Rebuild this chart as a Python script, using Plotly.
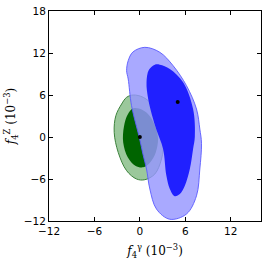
import plotly.graph_objects as go

# Contour outlines (units of 1e-3)
green_outer_x = [-0.88, 0.44, 1.75, 2.64, 3.17, 2.86, 1.98, 0.66, -0.44, -1.75, -2.86, -3.39, -3.17, -2.41, -1.75]
green_outer_y = [6.0, 5.67, 4.47, 2.57, -0.29, -3.14, -5.29, -6.1, -6.0, -4.81, -2.19, 0.67, 3.05, 4.71, 5.67]

green_inner_x = [-0.88, 0.3, 1.3, 2.1, 2.4, 2.1, 1.3, 0.44, -0.6, -1.6, -2.2, -2.1, -1.6]
green_inner_y = [4.1, 3.9, 3.0, 1.3, -0.3, -2.2, -3.7, -4.33, -4.1, -2.9, -0.8, 1.5, 3.2]

blue_outer_x = [0.66, 2.64, 4.39, 6.16, 7.48, 7.92, 8.14, 7.92, 7.48, 6.16, 3.96, 2.2, 1.32, 0.88, 0.44, -0.09, -1.1, -1.54, -1.75, -1.54, -0.92]
blue_outer_y = [12.81, 12.1, 10.19, 7.33, 4.0, 1.14, -0.9, -4.57, -8.4, -11.0, -11.75, -10.3, -7.43, -4.57, -2.6, 0.0, 4.47, 8.29, 9.47, 10.9, 12.14]

blue_inner_x = [1.98, 2.64, 3.96, 5.71, 7.03, 7.26, 7.03, 6.6, 5.94, 5.28, 4.6, 3.96, 3.5, 3.07, 2.2, 1.75, 1.1, 0.88, 1.2]
blue_inner_y = [10.33, 10.33, 9.71, 7.81, 4.0, 0.04, -1.71, -4.57, -6.95, -8.14, -8.45, -7.43, -5.5, -1.71, 1.0, 2.57, 5.43, 7.81, 9.6]

best_x = [0.0, 5.0]
best_y = [0.0, 5.0]

tick_vals = [-12, -6, 0, 6, 12, 18]
tick_text = ["\u221212", "\u22126", "0", "6", "12", "18"]


def closed(a):
    return list(a) + [a[0]]


fig = go.Figure()
fig.add_trace(go.Scatter(x=closed(green_outer_x), y=closed(green_outer_y), mode="lines",
                         fill="toself", fillcolor="rgb(155,200,155)",
                         line=dict(color="rgb(60,130,60)", width=1, shape="spline", smoothing=1.0),
                         hoverinfo="skip"))
fig.add_trace(go.Scatter(x=closed(green_inner_x), y=closed(green_inner_y), mode="lines",
                         fill="toself", fillcolor="rgb(0,100,0)",
                         line=dict(color="rgba(0,100,0,0)", width=0, shape="spline", smoothing=1.0),
                         hoverinfo="skip"))
fig.add_trace(go.Scatter(x=closed(blue_outer_x), y=closed(blue_outer_y), mode="lines",
                         fill="toself", fillcolor="rgba(150,150,255,0.82)",
                         line=dict(color="rgba(90,90,255,0.9)", width=1, shape="spline", smoothing=1.0),
                         hoverinfo="skip"))
fig.add_trace(go.Scatter(x=closed(blue_inner_x), y=closed(blue_inner_y), mode="lines",
                         fill="toself", fillcolor="rgb(32,32,255)",
                         line=dict(color="rgba(32,32,255,0)", width=0, shape="spline", smoothing=1.0),
                         hoverinfo="skip"))
fig.add_trace(go.Scatter(x=best_x, y=best_y, mode="markers",
                         marker=dict(color="black", size=4), hoverinfo="skip"))

axis_common = dict(
    showgrid=False, zeroline=False, showline=True, linecolor="black", linewidth=1,
    mirror="ticks", ticks="inside", ticklen=4, tickcolor="black", tickwidth=1,
    tickfont=dict(family="DejaVu Sans", size=10.5, color="black"),
    tickvals=tick_vals, ticktext=tick_text, automargin=False,
)

fig.update_layout(
    width=267, height=262,
    margin=dict(l=49, r=6, t=11, b=41),
    paper_bgcolor="white", plot_bgcolor="white",
    showlegend=False,
    xaxis=dict(range=[-12, 16], **axis_common,
               title=dict(text="<i>f</i><sub>4</sub><sup>\u03b3</sup> (10<sup>\u22123</sup>)",
                          font=dict(family="DejaVu Serif", size=12, color="black"), standoff=11)),
    yaxis=dict(range=[-12, 18], **axis_common,
               title=dict(text="<i>f</i><sub>4</sub><sup>Z</sup> (10<sup>\u22123</sup>)",
                          font=dict(family="DejaVu Serif", size=12, color="black"), standoff=5)),
)

fig.write_html("out.html", config={"displayModeBar": False},
               post_script="document.body.style.margin='0';document.body.style.overflow='hidden';")
